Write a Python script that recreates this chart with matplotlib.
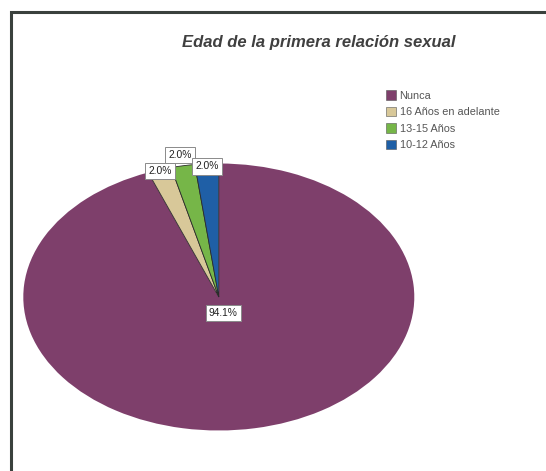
import numpy as np
import matplotlib
matplotlib.use("Agg")
import matplotlib.pyplot as plt
from matplotlib.lines import Line2D

# ---- data ----
title = "Edad de la primera relación sexual"
categories = ["Nunca", "16 Años en adelante", "13-15 Años", "10-12 Años"]
counts = [48, 1, 1, 1]
colors = ["#7e3f6b", "#d8c899", "#76b648", "#1f5fa6"]

plt.rcParams['font.family'] = ['Liberation Sans', 'DejaVu Sans']

W, H = 546, 471
fig = plt.figure(figsize=(W / 100, H / 100), dpi=100)
fig.patch.set_facecolor("white")

# ellipse geometry (pixels)
cx, cy, rx, ry = 218.8, 297.0, 195.5, 133.5
lim = 1.1
aw, ah = 2 * lim * rx, 2 * lim * ry
ax = fig.add_axes([(cx - aw / 2) / W, (H - cy - ah / 2) / H, aw / W, ah / H])

wedges, _, autotexts = ax.pie(
    counts, colors=colors, startangle=90, counterclock=False,
    autopct="%1.1f%%", pctdistance=0.5,
    textprops=dict(fontsize=7.4, color="#222222"),
)
ax.set_aspect("auto")
ax.set_xlim(-lim, lim)
ax.set_ylim(-lim, lim)
ax.axis("off")

for i, w in enumerate(wedges):
    if i == 0:
        w.set_edgecolor("none")
    else:
        w.set_edgecolor("#2b2b2b")
        w.set_linewidth(0.6)

dists = [0.125, 0.99, 1.08, 0.98]
for w, t, d in zip(wedges, autotexts, dists):
    th = np.deg2rad((w.theta1 + w.theta2) / 2)
    t.set_position((d * np.cos(th), d * np.sin(th)))
    t.set_ha("center")
    t.set_va("center")
    t.set_fontstretch("condensed")
    t.set_bbox(dict(boxstyle="square,pad=0.3", fc="white", ec="#8a8a8a", lw=0.7))

# title
fig.text(319 / W, 1 - 43 / H, title, ha="center", va="center",
         fontsize=12, fontweight="bold", fontstyle="italic", color="#404040")

# legend
handles = [plt.Rectangle((0, 0), 1, 1, fc=c, ec="#555555", lw=0.4) for c in colors]
leg = fig.legend(handles, categories, loc="upper left",
                 bbox_to_anchor=(386 / W, 1 - 90 / H), frameon=False,
                 fontsize=7.8, borderpad=0, borderaxespad=0,
                 handlelength=0.9, handleheight=1.0, handletextpad=0.35,
                 labelspacing=0.55)
for t in leg.get_texts():
    t.set_color("#555555")

# outer frame (left and top borders)
fig.add_artist(Line2D([10.5 / W, 10.5 / W, 1.0], [0.0, 1 - 11.5 / H, 1 - 11.5 / H],
                      transform=fig.transFigure, color="#3a413d", lw=2.2,
                      solid_joinstyle="miter"))

fig.savefig("out.png", dpi=100, facecolor="white")
